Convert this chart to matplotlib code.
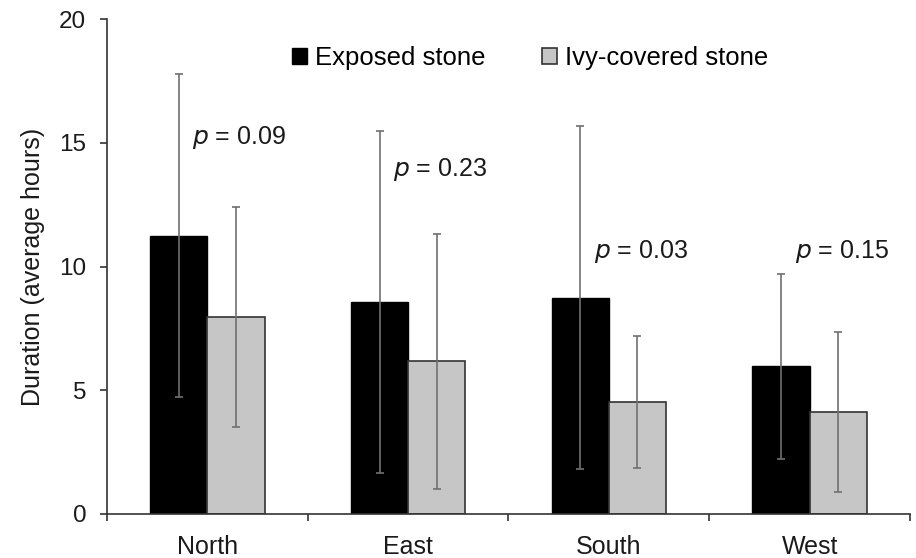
import numpy as np
import matplotlib
matplotlib.use("Agg")
import matplotlib.pyplot as plt
from matplotlib.ticker import FixedLocator, NullFormatter

# Données
aspects = ["North", "East", "South", "West"]
exposed_mean = [11.24, 8.57, 8.74, 5.97]
exposed_sd = [6.52, 6.90, 6.94, 3.74]
ivy_mean = [7.95, 6.17, 4.53, 4.13]
ivy_sd = [4.45, 5.15, 2.67, 3.23]
p_labels = ["0.09", "0.23", "0.03", "0.15"]
p_y = [15.2, 13.9, 10.6, 10.6]

plt.rcParams['font.family'] = ['Liberation Sans', 'DejaVu Sans']

fig = plt.figure(figsize=(9.16, 5.58), dpi=100)
ax = fig.add_axes([107/916, 44/558, 803/916, 495/558])

x = np.arange(len(aspects))
w = 0.285
axis_col = "#333333"
txt_col = "#1a1a1a"

ax.bar(x - w/2, exposed_mean, w, color="black", edgecolor="black", linewidth=1,
       label="Exposed stone", zorder=2)
ax.bar(x + w/2, ivy_mean, w, color="#c6c6c6", edgecolor="#333333", linewidth=1.2,
       label="Ivy-covered stone", zorder=2)

ax.errorbar(x - w/2, exposed_mean, yerr=exposed_sd, fmt="none", ecolor="#707070",
            elinewidth=1.2, capsize=3, capthick=1.2, zorder=3)
ax.errorbar(x + w/2, ivy_mean, yerr=ivy_sd, fmt="none", ecolor="#707070",
            elinewidth=1.2, capsize=3, capthick=1.2, zorder=3)

# Valeurs p
for i in range(len(aspects)):
    ax.text(i - 0.075, p_y[i], "$p$ = " + p_labels[i], fontsize=18,
            ha="left", va="center", color=txt_col)

ax.set_xlim(-0.5, len(aspects) - 0.5)
ax.set_ylim(0, 20)
ax.set_yticks([0, 5, 10, 15, 20])

# Graduations x aux limites des catégories, étiquettes au centre
ax.xaxis.set_major_locator(FixedLocator(np.arange(-0.5, len(aspects), 1.0)))
ax.xaxis.set_major_formatter(NullFormatter())
ax.xaxis.set_minor_locator(FixedLocator(x))
ax.set_xticklabels(aspects, minor=True)
ax.tick_params(axis="x", which="major", length=5, width=1.2, color=axis_col, direction="out")
ax.tick_params(axis="x", which="minor", length=0, pad=15, labelsize=18, labelcolor=txt_col)
ax.tick_params(axis="y", length=5, width=1.2, color=axis_col, labelsize=17.5,
               labelcolor=txt_col, pad=10)

for s in ["top", "right"]:
    ax.spines[s].set_visible(False)
for s in ["left", "bottom"]:
    ax.spines[s].set_color(axis_col)
    ax.spines[s].set_linewidth(1.2)

ax.set_ylabel("Duration (average hours)", fontsize=18, color=txt_col, labelpad=10)

ax.legend(loc="center", bbox_to_anchor=(0.527, 0.921), ncol=2, frameon=False,
          fontsize=18.5, handlelength=0.6, handleheight=0.6, handletextpad=0.3,
          columnspacing=2.2)

fig.savefig("out.png", dpi=100)
